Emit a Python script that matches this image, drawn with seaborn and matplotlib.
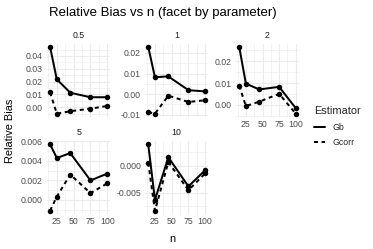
import matplotlib
matplotlib.use("Agg")
import matplotlib.pyplot as plt
from matplotlib.lines import Line2D
from matplotlib.ticker import MultipleLocator, FuncFormatter
import seaborn as sns
import numpy as np
import pandas as pd

# sample sizes and facet levels
n_values = [15, 25, 45, 75, 100]
params = ["0.5", "1", "2", "5", "10"]
estimators = ["Gb", "Gcorr"]

# relative bias, one list per parameter / estimator
gb_05 = [0.0470, 0.0218, 0.0113, 0.0078, 0.0078]
gcorr_05 = [0.0116, -0.0050, -0.0031, -0.0011, 0.0010]
gb_1 = [0.0229, 0.0082, 0.0086, 0.0019, 0.0013]
gcorr_1 = [-0.0087, -0.0095, -0.0008, -0.0038, -0.0030]
gb_2 = [0.0266, 0.0098, 0.0071, 0.0083, -0.0015]
gcorr_2 = [0.0088, -0.0005, 0.0015, 0.0051, -0.0040]
gb_5 = [0.0057, 0.0043, 0.0048, 0.0020, 0.0027]
gcorr_5 = [-0.0011, 0.00034, 0.0026, 0.0007, 0.0017]
gb_10 = [0.0040, -0.0063, 0.0016, -0.0038, -0.0008]
gcorr_10 = [0.0006, -0.0083, 0.0007, -0.0045, -0.0014]

series = {
    "0.5": (gb_05, gcorr_05),
    "1": (gb_1, gcorr_1),
    "2": (gb_2, gcorr_2),
    "5": (gb_5, gcorr_5),
    "10": (gb_10, gcorr_10),
}

rows = []
for p in params:
    for est, vals in zip(estimators, series[p]):
        for n, v in zip(n_values, vals):
            rows.append({"parameter": p, "Estimator": est, "n": n, "bias": v})
df = pd.DataFrame(rows)

sns.set_style("white")
plt.rcParams["font.family"] = ["Liberation Sans", "DejaVu Sans"]
plt.rcParams["axes.unicode_minus"] = False

W, H = 373, 249
fig = plt.figure(figsize=(W / 72, H / 72), dpi=72)
fig.patch.set_facecolor("white")

# panel boxes in pixels: left, top, right, bottom
boxes = {
    "0.5": (47.2, 43.6, 110.2, 117.0),
    "1": (145.4, 43.6, 208.0, 117.0),
    "2": (236.4, 43.6, 298.6, 117.0),
    "5": (47.2, 141.0, 110.2, 214.0),
    "10": (145.4, 141.0, 208.0, 214.0),
}
# y break step and decimals per facet (free y scales)
ystep = {"0.5": 0.01, "1": 0.01, "2": 0.01, "5": 0.002, "10": 0.005}
ydec = {"0.5": 2, "1": 2, "2": 2, "5": 3, "10": 3}
show_x = {"0.5": False, "1": False, "2": True, "5": True, "10": True}

grid_col = "#EBEBEB"
dash = (2.0, 1.8)

for p in params:
    l, t, r, b = boxes[p]
    ax = fig.add_axes([l / W, 1 - b / H, (r - l) / W, (b - t) / H])
    sub = df[df["parameter"] == p]
    sns.lineplot(data=sub, x="n", y="bias", style="Estimator", style_order=estimators,
                 dashes={"Gb": "", "Gcorr": dash}, markers={"Gb": "o", "Gcorr": "o"},
                 color="black", linewidth=2.0, markersize=5.5, markeredgewidth=0,
                 ax=ax, legend=False)
    ax.margins(x=0.05, y=0.05)
    ax.xaxis.set_major_locator(MultipleLocator(25))
    ax.xaxis.set_minor_locator(MultipleLocator(12.5))
    ax.yaxis.set_major_locator(MultipleLocator(ystep[p]))
    ax.yaxis.set_minor_locator(MultipleLocator(ystep[p] / 2))
    d = ydec[p]
    ax.yaxis.set_major_formatter(FuncFormatter(lambda v, pos, d=d: f"{v:.{d}f}" if abs(v) > 1e-12 else f"{0:.{d}f}"))
    ax.grid(which="major", color=grid_col, linewidth=1.1)
    ax.grid(which="minor", color=grid_col, linewidth=0.6)
    ax.set_axisbelow(True)
    for s in ax.spines.values():
        s.set_visible(False)
    ax.tick_params(which="both", length=0, labelsize=8.8, labelcolor="#4D4D4D")
    ax.tick_params(axis="y", pad=4.4)
    ax.tick_params(axis="x", pad=3.0, labelbottom=show_x[p])
    ax.set_xlabel("")
    ax.set_ylabel("")
    ax.set_title(p, fontsize=8.8, color="#1A1A1A", pad=6)

fig.text(49 / W, 1 - 13 / H, "Relative Bias vs n (facet by parameter)", fontsize=13.2,
         ha="left", va="center", color="black")
fig.text(10 / W, 1 - 131 / H, "Relative Bias", fontsize=11, rotation=90,
         ha="center", va="center", color="black")
fig.text(172.5 / W, 1 - 241.5 / H, "n", fontsize=11, ha="center", va="baseline", color="black")

handles = [Line2D([], [], color="black", linewidth=2.0),
           Line2D([], [], color="black", linewidth=2.0, dashes=dash)]
leg = fig.legend(handles, estimators, title="Estimator", loc="upper left",
                 bbox_to_anchor=(314 / W, 1 - 106 / H), frameon=False, fontsize=8.8,
                 title_fontsize=11, handlelength=1.3, handletextpad=0.8,
                 labelspacing=0.75, borderpad=0, borderaxespad=0, alignment="left")

fig.savefig("out.png", dpi=72, facecolor="white")
